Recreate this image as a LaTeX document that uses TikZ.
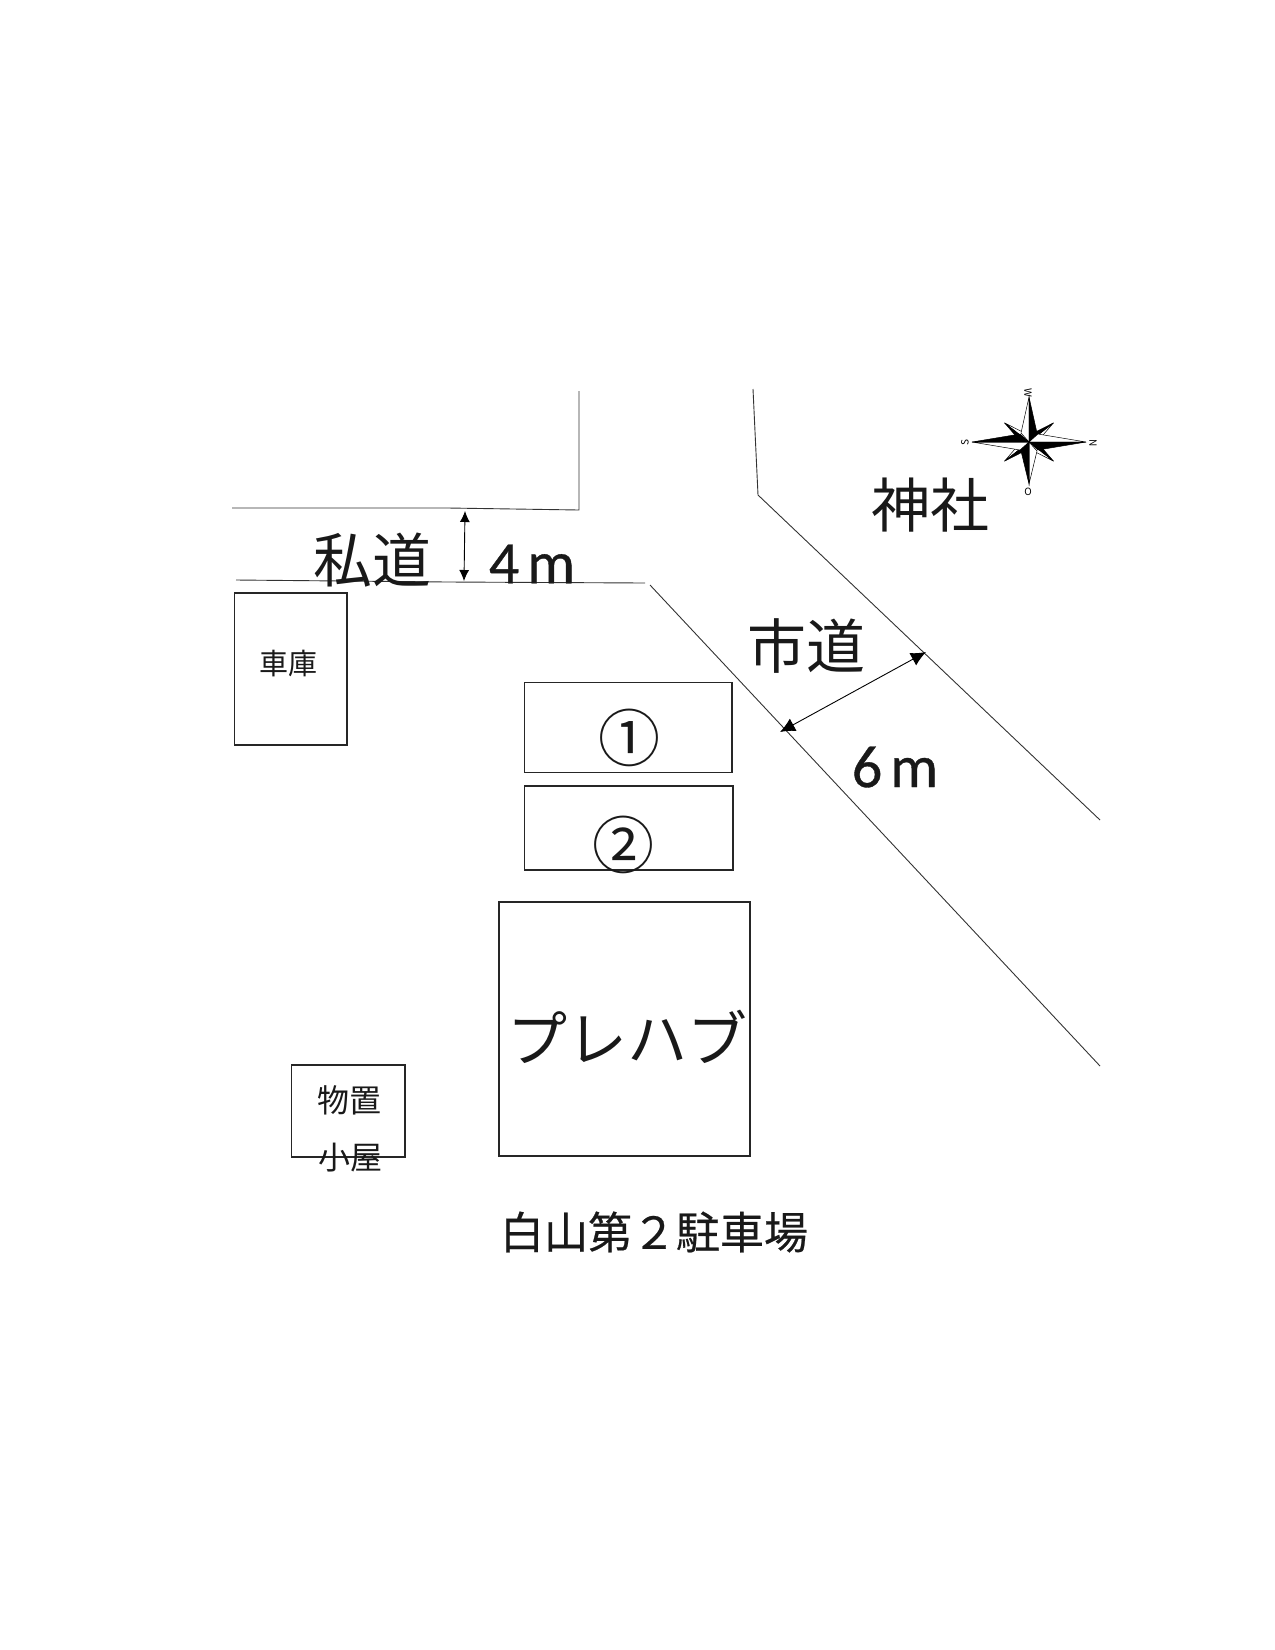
\documentclass[tikz,border=0pt]{standalone}
\usepackage{fontspec}
\setmainfont{Noto Sans CJK JP}
\newfontfamily\latinf[FakeBold=0.6]{Carlito}
\newfontfamily\cjkheavy[FakeBold=0.5]{Noto Sans CJK JP}
\usetikzlibrary{arrows.meta}
\tikzset{
  road/.style={line width=0.9pt,color=black!80},
  bldg/.style={line width=1.5pt,color=black!85},
  dim/.style={line width=0.9pt,black,{Latex[length=11pt,width=10pt]}-{Latex[length=11pt,width=10pt]}},
  dimb/.style={line width=0.9pt,black,{Latex[length=15pt,width=14pt]}-{Latex[length=15pt,width=14pt]}},
  lab/.style={inner sep=0pt,anchor=center,color=black!90},
  pt/.style={fill=black,draw=black,line width=0.5pt},
  ptw/.style={fill=white,draw=black,line width=0.5pt},
  cdir/.style={inner sep=0pt,font=\fontsize{10}{10}\selectfont}
}
\begin{document}
\begin{tikzpicture}[x=1pt,y=-1pt]
\useasboundingbox (0,0) rectangle (1275,1650);
% roads
\draw[road] (232,508) -- (448,508) -- (579,510) -- (579,391);
\draw[road] (236,580) -- (448,582) -- (645,583);
\draw[road] (650,585) -- (1100,1066);
\draw[road] (753,389) -- (758,495) -- (1100,820);
% buildings
\draw[bldg] (524.5,682.5) rectangle (732,772.5);
\draw[bldg] (524.5,786) rectangle (733,870);
\draw[bldg] (499,902) rectangle (750,1156);
\draw[bldg] (234.5,593) rectangle (347,745);
\draw[bldg] (291.5,1065) rectangle (405,1157);
% dimensions
\coordinate (d4a) at (465,511); \coordinate (d4b) at (464,581);
\coordinate (d6a) at (780,732); \coordinate (d6b) at (926,652);
\draw[dim] (d4a) -- (d4b);
\draw[dimb] (d6a) -- (d6b);
% labels
\node[lab,font=\fontsize{59}{59}\selectfont] (sido) at (372,560) {私道};
\node[lab,font=\fontsize{59}{59}\selectfont] (shido) at (806,646) {市道};
\node[lab,font=\fontsize{59}{59}\selectfont] (jinja) at (930,505) {神社};
\node[lab,font=\latinf\fontsize{60}{60}\selectfont] (w4) at (532,564) {4\hspace{8pt}m};
\node[lab,font=\latinf\fontsize{60}{60}\selectfont] (w6) at (895,767) {6\hspace{8pt}m};
\node[lab,font=\fontsize{29}{29}\selectfont] (shako) at (288,664) {車庫};
\node[lab,font=\fontsize{62}{62}\selectfont] (c1) at (629,738) {①};
\node[lab,font=\fontsize{62}{62}\selectfont] (c2) at (623,845) {②};
\node[lab,font=\fontsize{60}{60}\selectfont] (pre) at (627,1037) {プレハブ};
\node[lab,font=\fontsize{32}{32}\selectfont] (mono) at (349,1100) {物置};
\node[lab,font=\fontsize{32}{32}\selectfont] (koya) at (350,1158) {小屋};
\node[lab,font=\cjkheavy\fontsize{44}{44}\selectfont] (title) at (654,1232) {白山第２駐車場};
% compass
\begin{scope}[shift={(1029,442)}]
  \foreach \a in {38,142,218,322}{
    \begin{scope}[rotate=\a]
      \fill[ptw] (0,0) -- (6,5) -- (31,0) -- cycle;
      \fill[pt] (0,0) -- (6,-5) -- (31,0) -- cycle;
    \end{scope}}
  \foreach \a/\L in {0/57,90/45,180/57,270/42}{
    \begin{scope}[rotate=\a]
      \fill[ptw] (0,0) -- (9,-8) -- (\L,0) -- cycle;
      \fill[pt] (0,0) -- (9,8) -- (\L,0) -- cycle;
    \end{scope}}
\end{scope}
\node[cdir,rotate=-90] (cw) at (1028,393) {W};
\node[cdir] (co) at (1028,492) {O};
\node[cdir,rotate=90] (cs) at (965,443) {S};
\node[cdir,rotate=-90] (cn) at (1093,443) {N};
\end{tikzpicture}
\end{document}
